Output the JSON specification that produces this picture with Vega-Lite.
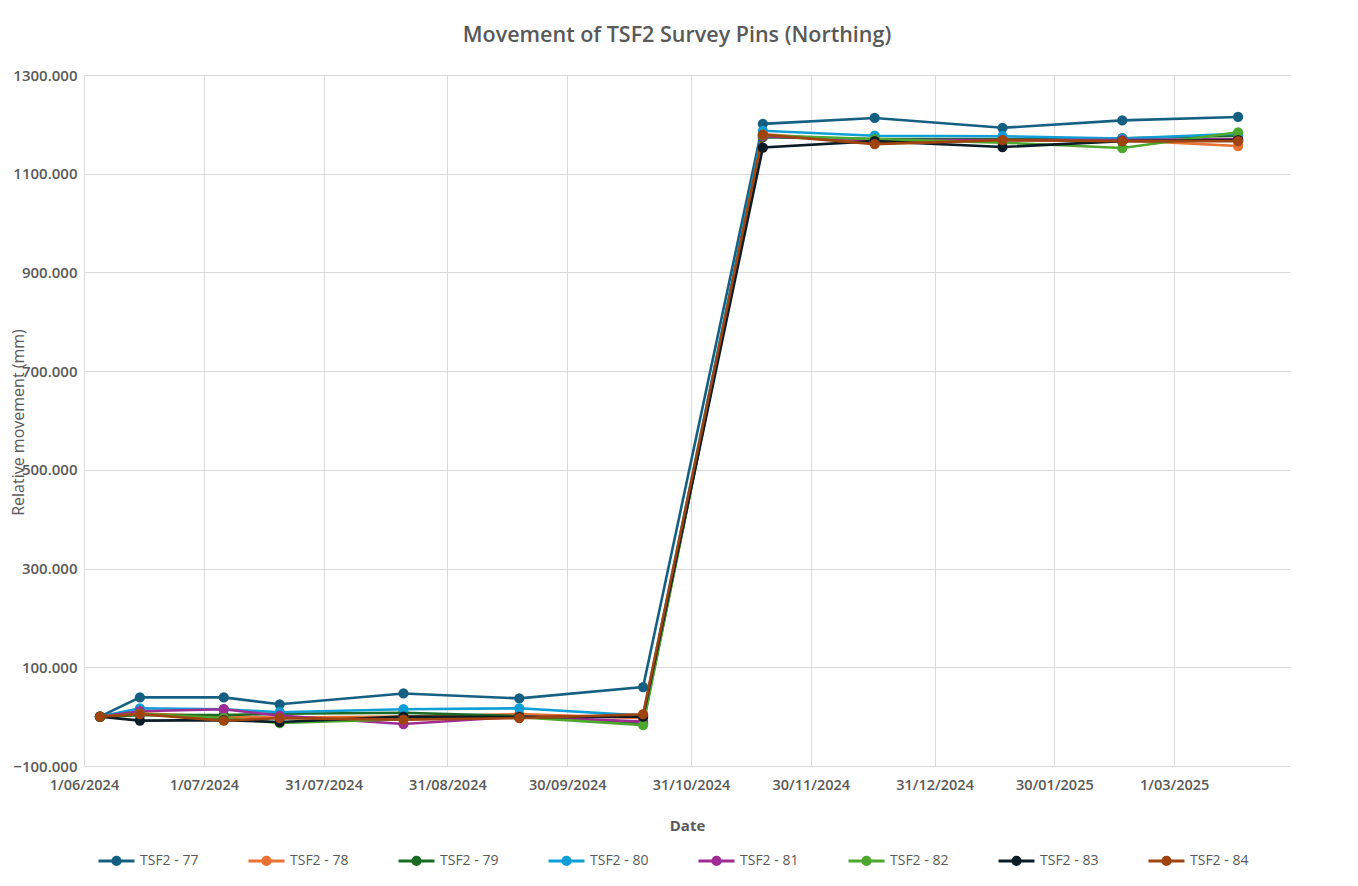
{
  "$schema": "https://vega.github.io/schema/vega-lite/v6.json",
  "width": 1206,
  "height": 691,
  "autosize": {"type": "none"},
  "padding": {"left": 84, "top": 75, "right": 68, "bottom": 120},
  "background": "white",
  "title": {
    "text": "Movement of TSF2 Survey Pins (Northing)",
    "font": "Open Sans",
    "fontSize": 21.5,
    "fontWeight": 600,
    "color": "#595959",
    "anchor": "middle",
    "dx": -10,
    "offset": 22
  },
  "config": {
    "view": {"stroke": null},
    "font": "Open Sans"
  },
  "data": {
    "values": [
      {"s": "TSF2 - 77", "d": "2024-06-05T00:00", "v": 0},
      {"s": "TSF2 - 77", "d": "2024-06-15T00:00", "v": 39},
      {"s": "TSF2 - 77", "d": "2024-07-06T00:00", "v": 39},
      {"s": "TSF2 - 77", "d": "2024-07-20T00:00", "v": 25},
      {"s": "TSF2 - 77", "d": "2024-08-20T00:00", "v": 47},
      {"s": "TSF2 - 77", "d": "2024-09-18T00:00", "v": 37},
      {"s": "TSF2 - 77", "d": "2024-10-19T00:00", "v": 60},
      {"s": "TSF2 - 77", "d": "2024-11-18T00:00", "v": 1201},
      {"s": "TSF2 - 77", "d": "2024-12-16T00:00", "v": 1213},
      {"s": "TSF2 - 77", "d": "2025-01-17T00:00", "v": 1193},
      {"s": "TSF2 - 77", "d": "2025-02-16T00:00", "v": 1208},
      {"s": "TSF2 - 77", "d": "2025-03-17T00:00", "v": 1215},
      {"s": "TSF2 - 78", "d": "2024-06-05T00:00", "v": 0},
      {"s": "TSF2 - 78", "d": "2024-06-15T00:00", "v": 7},
      {"s": "TSF2 - 78", "d": "2024-07-06T00:00", "v": 0},
      {"s": "TSF2 - 78", "d": "2024-07-20T00:00", "v": -2},
      {"s": "TSF2 - 78", "d": "2024-08-20T00:00", "v": 0},
      {"s": "TSF2 - 78", "d": "2024-09-18T00:00", "v": 5},
      {"s": "TSF2 - 78", "d": "2024-10-19T00:00", "v": -3},
      {"s": "TSF2 - 78", "d": "2024-11-18T00:00", "v": 1180},
      {"s": "TSF2 - 78", "d": "2024-12-16T00:00", "v": 1164},
      {"s": "TSF2 - 78", "d": "2025-01-17T00:00", "v": 1168},
      {"s": "TSF2 - 78", "d": "2025-02-16T00:00", "v": 1168},
      {"s": "TSF2 - 78", "d": "2025-03-17T00:00", "v": 1156},
      {"s": "TSF2 - 79", "d": "2024-06-05T00:00", "v": 0},
      {"s": "TSF2 - 79", "d": "2024-06-15T00:00", "v": 3},
      {"s": "TSF2 - 79", "d": "2024-07-06T00:00", "v": 3},
      {"s": "TSF2 - 79", "d": "2024-07-20T00:00", "v": 6},
      {"s": "TSF2 - 79", "d": "2024-08-20T00:00", "v": 8},
      {"s": "TSF2 - 79", "d": "2024-09-18T00:00", "v": 1},
      {"s": "TSF2 - 79", "d": "2024-10-19T00:00", "v": -14},
      {"s": "TSF2 - 79", "d": "2024-11-18T00:00", "v": 1174},
      {"s": "TSF2 - 79", "d": "2024-12-16T00:00", "v": 1170},
      {"s": "TSF2 - 79", "d": "2025-01-17T00:00", "v": 1170},
      {"s": "TSF2 - 79", "d": "2025-02-16T00:00", "v": 1172},
      {"s": "TSF2 - 79", "d": "2025-03-17T00:00", "v": 1177},
      {"s": "TSF2 - 80", "d": "2024-06-05T00:00", "v": 0},
      {"s": "TSF2 - 80", "d": "2024-06-15T00:00", "v": 17},
      {"s": "TSF2 - 80", "d": "2024-07-06T00:00", "v": 15},
      {"s": "TSF2 - 80", "d": "2024-07-20T00:00", "v": 9},
      {"s": "TSF2 - 80", "d": "2024-08-20T00:00", "v": 15},
      {"s": "TSF2 - 80", "d": "2024-09-18T00:00", "v": 17},
      {"s": "TSF2 - 80", "d": "2024-10-19T00:00", "v": 2},
      {"s": "TSF2 - 80", "d": "2024-11-18T00:00", "v": 1187},
      {"s": "TSF2 - 80", "d": "2024-12-16T00:00", "v": 1177},
      {"s": "TSF2 - 80", "d": "2025-01-17T00:00", "v": 1176},
      {"s": "TSF2 - 80", "d": "2025-02-16T00:00", "v": 1171},
      {"s": "TSF2 - 80", "d": "2025-03-17T00:00", "v": 1181},
      {"s": "TSF2 - 81", "d": "2024-06-05T00:00", "v": 0},
      {"s": "TSF2 - 81", "d": "2024-06-15T00:00", "v": 11},
      {"s": "TSF2 - 81", "d": "2024-07-06T00:00", "v": 15},
      {"s": "TSF2 - 81", "d": "2024-07-20T00:00", "v": 2},
      {"s": "TSF2 - 81", "d": "2024-08-20T00:00", "v": -15},
      {"s": "TSF2 - 81", "d": "2024-09-18T00:00", "v": 0},
      {"s": "TSF2 - 81", "d": "2024-10-19T00:00", "v": -10},
      {"s": "TSF2 - 81", "d": "2024-11-18T00:00", "v": 1176},
      {"s": "TSF2 - 81", "d": "2024-12-16T00:00", "v": 1168},
      {"s": "TSF2 - 81", "d": "2025-01-17T00:00", "v": 1168},
      {"s": "TSF2 - 81", "d": "2025-02-16T00:00", "v": 1168},
      {"s": "TSF2 - 81", "d": "2025-03-17T00:00", "v": 1170},
      {"s": "TSF2 - 82", "d": "2024-06-05T00:00", "v": 0},
      {"s": "TSF2 - 82", "d": "2024-06-15T00:00", "v": 6},
      {"s": "TSF2 - 82", "d": "2024-07-06T00:00", "v": -3},
      {"s": "TSF2 - 82", "d": "2024-07-20T00:00", "v": -13},
      {"s": "TSF2 - 82", "d": "2024-08-20T00:00", "v": -5},
      {"s": "TSF2 - 82", "d": "2024-09-18T00:00", "v": -1},
      {"s": "TSF2 - 82", "d": "2024-10-19T00:00", "v": -17},
      {"s": "TSF2 - 82", "d": "2024-11-18T00:00", "v": 1178},
      {"s": "TSF2 - 82", "d": "2024-12-16T00:00", "v": 1170},
      {"s": "TSF2 - 82", "d": "2025-01-17T00:00", "v": 1163},
      {"s": "TSF2 - 82", "d": "2025-02-16T00:00", "v": 1152},
      {"s": "TSF2 - 82", "d": "2025-03-17T00:00", "v": 1184},
      {"s": "TSF2 - 83", "d": "2024-06-05T00:00", "v": 0},
      {"s": "TSF2 - 83", "d": "2024-06-15T00:00", "v": -8},
      {"s": "TSF2 - 83", "d": "2024-07-06T00:00", "v": -7},
      {"s": "TSF2 - 83", "d": "2024-07-20T00:00", "v": -11},
      {"s": "TSF2 - 83", "d": "2024-08-20T00:00", "v": 0},
      {"s": "TSF2 - 83", "d": "2024-09-18T00:00", "v": -1},
      {"s": "TSF2 - 83", "d": "2024-10-19T00:00", "v": 0},
      {"s": "TSF2 - 83", "d": "2024-11-18T00:00", "v": 1153},
      {"s": "TSF2 - 83", "d": "2024-12-16T00:00", "v": 1166},
      {"s": "TSF2 - 83", "d": "2025-01-17T00:00", "v": 1154},
      {"s": "TSF2 - 83", "d": "2025-02-16T00:00", "v": 1166},
      {"s": "TSF2 - 83", "d": "2025-03-17T00:00", "v": 1168},
      {"s": "TSF2 - 84", "d": "2024-06-05T00:00", "v": 0},
      {"s": "TSF2 - 84", "d": "2024-06-15T00:00", "v": 5},
      {"s": "TSF2 - 84", "d": "2024-07-06T00:00", "v": -8},
      {"s": "TSF2 - 84", "d": "2024-07-20T00:00", "v": -3},
      {"s": "TSF2 - 84", "d": "2024-08-20T00:00", "v": -6},
      {"s": "TSF2 - 84", "d": "2024-09-18T00:00", "v": -3},
      {"s": "TSF2 - 84", "d": "2024-10-19T00:00", "v": 5},
      {"s": "TSF2 - 84", "d": "2024-11-18T00:00", "v": 1179},
      {"s": "TSF2 - 84", "d": "2024-12-16T00:00", "v": 1160},
      {"s": "TSF2 - 84", "d": "2025-01-17T00:00", "v": 1168},
      {"s": "TSF2 - 84", "d": "2025-02-16T00:00", "v": 1166},
      {"s": "TSF2 - 84", "d": "2025-03-17T00:00", "v": 1166}
    ]
  },
  "encoding": {
    "x": {
      "field": "d",
      "type": "temporal",
      "scale": {
        "domain": [
          {"year": 2024, "month": 6, "date": 1},
          {"year": 2025, "month": 3, "date": 30}
        ]
      },
      "axis": {
        "values": [
          {"year": 2024, "month": 6, "date": 1},
          {"year": 2024, "month": 7, "date": 1},
          {"year": 2024, "month": 7, "date": 31},
          {"year": 2024, "month": 8, "date": 31},
          {"year": 2024, "month": 9, "date": 30},
          {"year": 2024, "month": 10, "date": 31},
          {"year": 2024, "month": 11, "date": 30},
          {"year": 2024, "month": 12, "date": 31},
          {"year": 2025, "month": 1, "date": 30},
          {"year": 2025, "month": 3, "date": 1}
        ],
        "format": "%-d/%m/%Y",
        "title": "Date",
        "titleFont": "Open Sans",
        "titleFontSize": 15,
        "titleFontWeight": "bold",
        "titleColor": "#595959",
        "titlePadding": 27,
        "labelFont": "Open Sans",
        "labelFontSize": 14.5,
        "labelFontWeight": 600,
        "labelColor": "#595959",
        "labelPadding": 12,
        "labelFlush": false,
        "labelOverlap": false,
        "ticks": false,
        "domain": false,
        "grid": true,
        "gridColor": "#d9d9d9",
        "gridWidth": 1
      }
    },
    "y": {
      "field": "v",
      "type": "quantitative",
      "scale": {"domain": [-100, 1300], "nice": false, "zero": false},
      "axis": {
        "values": [-100, 100, 300, 500, 700, 900, 1100, 1300],
        "format": ".3f",
        "title": "Relative movement (mm)",
        "titleFont": "Open Sans",
        "titleFontSize": 16,
        "titleFontWeight": "normal",
        "titleColor": "#595959",
        "titleX": -66,
        "titleY": 347,
        "titleAngle": -90,
        "titleAlign": "center",
        "titleBaseline": "middle",
        "labelFont": "Open Sans",
        "labelFontSize": 15,
        "labelFontWeight": 600,
        "labelColor": "#595959",
        "labelPadding": 7,
        "ticks": false,
        "domain": false,
        "grid": true,
        "gridColor": "#d9d9d9",
        "gridWidth": 1
      }
    }
  },
  "layer": [
    {
      "data": {"values": [{}]},
      "mark": {"type": "rule", "color": "#a6a6a6", "strokeWidth": 1.2},
      "encoding": {"y": {"datum": 0}, "x": null}
    },
    {
      "mark": {"type": "line", "strokeWidth": 2.6},
      "encoding": {
        "color": {
          "field": "s",
          "type": "nominal",
          "scale": {
            "domain": ["TSF2 - 77", "TSF2 - 78", "TSF2 - 79", "TSF2 - 80", "TSF2 - 81", "TSF2 - 82", "TSF2 - 83", "TSF2 - 84"],
            "range": ["#156082", "#E97132", "#196B24", "#0F9ED5", "#A02B93", "#4EA72E", "#0B1C26", "#A0440F"]
          },
          "legend": {
            "orient": "none",
            "legendX": 13,
            "legendY": 766,
            "direction": "horizontal",
            "columns": 8,
            "columnPadding": 43,
            "title": null,
            "symbolType": "M-1,0L1,0M-0.2,0A0.2,0.2,0,1,0,0.2,0A0.2,0.2,0,1,0,-0.2,0",
            "symbolSize": 1296,
            "symbolStrokeWidth": 3,
            "labelFont": "Open Sans",
            "labelFontSize": 14,
            "labelColor": "#595959",
            "labelOffset": 4,
            "encode": {
              "symbols": {
                "update": {
                  "fill": {"scale": "color", "field": "value"},
                  "stroke": {"scale": "color", "field": "value"},
                  "strokeWidth": {"value": 3},
                  "opacity": {"value": 1}
                }
              }
            }
          }
        }
      }
    },
    {
      "mark": {"type": "point", "filled": true, "size": 105, "opacity": 1},
      "encoding": {
        "color": {"field": "s", "type": "nominal", "legend": null}
      }
    }
  ]
}
